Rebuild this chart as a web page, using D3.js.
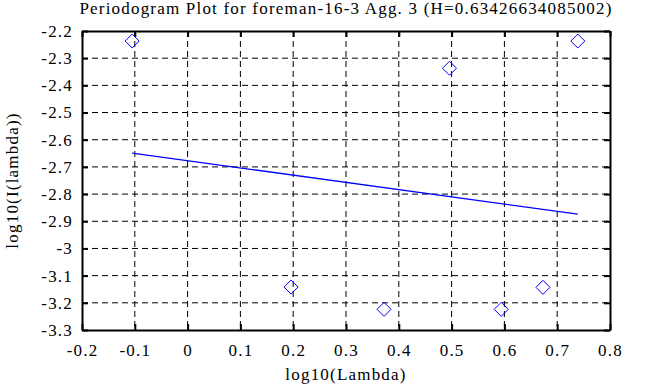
<!DOCTYPE html>
<html>
<head>
<meta charset="utf-8">
<script src="https://cdn.jsdelivr.net/npm/d3@7"></script>
<style>
  body { margin: 0; background: #fff; }
  svg text { font-family: "Liberation Serif", "Times New Roman", serif !important; fill: #000; letter-spacing: 1.2px; }
</style>
</head>
<body>
<div id="chart"></div>
<script>
// periodogram points (log10 lambda, log10 I(lambda))
var logLambda = [-0.105, 0.196, 0.372, 0.496, 0.594, 0.673, 0.739];
var logPower = [-2.237, -3.142, -3.224, -2.337, -3.224, -3.143, -2.237];
// least squares fit line endpoints
var fitX = [-0.105, 0.739];
var fitY = [-2.649, -2.874];

var xTicks = [-0.2, -0.1, 0, 0.1, 0.2, 0.3, 0.4, 0.5, 0.6, 0.7, 0.8];
var yTicks = [-2.2, -2.3, -2.4, -2.5, -2.6, -2.7, -2.8, -2.9, -3, -3.1, -3.2, -3.3];

var title = "Periodogram Plot for foreman-16-3 Agg. 3 (H=0.63426634085002)";

var width = 658, height = 387;
var margin = { top: 31, right: 48, bottom: 57, left: 82 };
var w = width - margin.left - margin.right,
  h = height - margin.top - margin.bottom;

var svg = d3.select("#chart").append("svg")
  .attr("width", width)
  .attr("height", height);

var g = svg.append("g")
  .attr("transform", "translate(" + margin.left + "," + margin.top + ")");

var x = d3.scaleLinear().domain([-0.2, 0.8]).range([0, w]);
var y = d3.scaleLinear().domain([-3.3, -2.2]).range([h, 0]);

// dashed grid
g.append("g").selectAll("line")
  .data(xTicks.slice(1, -1))
  .enter().append("line")
  .attr("x1", d => x(d)).attr("x2", d => x(d))
  .attr("y1", 0).attr("y2", h)
  .attr("stroke", "#000").attr("stroke-dasharray", "6,4");
g.append("g").selectAll("line")
  .data(yTicks.slice(1, -1))
  .enter().append("line")
  .attr("y1", d => y(d)).attr("y2", d => y(d))
  .attr("x1", 0).attr("x2", w)
  .attr("stroke", "#000").attr("stroke-dasharray", "6,4");

// axes with inward ticks
var fmt = d => String(+d.toFixed(1));
g.append("g")
  .attr("transform", "translate(0," + h + ")")
  .call(d3.axisBottom(x).tickValues(xTicks).tickFormat(fmt).tickSizeInner(-6).tickSizeOuter(0).tickPadding(14));
g.append("g")
  .call(d3.axisTop(x).tickValues(xTicks).tickFormat("").tickSizeInner(-6).tickSizeOuter(0));
g.append("g")
  .call(d3.axisLeft(y).tickValues(yTicks).tickFormat(fmt).tickSizeInner(-6).tickSizeOuter(0).tickPadding(9));
g.append("g")
  .attr("transform", "translate(" + w + ",0)")
  .call(d3.axisRight(y).tickValues(yTicks).tickFormat("").tickSizeInner(-6).tickSizeOuter(0));

g.selectAll(".domain").attr("stroke", "#000").attr("stroke-width", 2);
g.selectAll(".tick line").attr("stroke", "#000").attr("stroke-width", 2);
g.selectAll(".tick text").style("font-size", "17px");

// fit line
g.append("path")
  .datum(d3.zip(fitX, fitY))
  .attr("fill", "none")
  .attr("stroke", "#0000ff")
  .attr("stroke-width", 1.3)
  .attr("d", d3.line().x(d => x(d[0])).y(d => y(d[1])));

// diamonds
g.selectAll(".pt")
  .data(d3.zip(logLambda, logPower))
  .enter().append("path")
  .attr("class", "pt")
  .attr("transform", d => "translate(" + x(d[0]) + "," + y(d[1]) + ")")
  .attr("d", "M0,-7L7,0L0,7L-7,0Z")
  .attr("fill", "none")
  .attr("stroke", "#0000ff")
  .attr("stroke-width", 1);

// labels
svg.append("text")
  .attr("x", margin.left + w / 2).attr("y", 14)
  .attr("text-anchor", "middle")
  .style("font-size", "17px")
  .text(title);
svg.append("text")
  .attr("x", margin.left + w / 2).attr("y", 380)
  .attr("text-anchor", "middle")
  .style("font-size", "17px")
  .text("log10(Lambda)");
svg.append("text")
  .attr("transform", "translate(18," + (margin.top + h / 2) + ") rotate(-90)")
  .attr("text-anchor", "middle")
  .style("font-size", "17px")
  .text("log10(I(lambda))");
</script>
</body>
</html>
